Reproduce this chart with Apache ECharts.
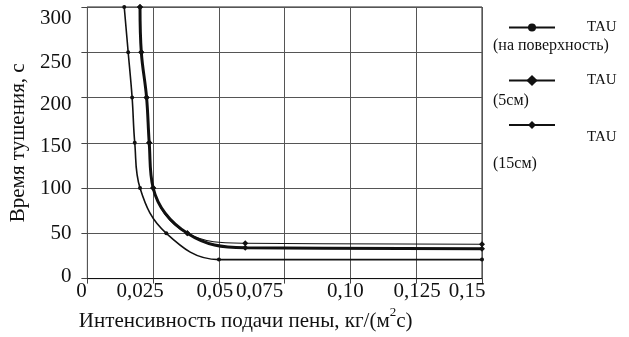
<!DOCTYPE html>
<html>
<head>
<meta charset="utf-8">
<script src="https://cdn.jsdelivr.net/npm/echarts@6/dist/echarts.min.js"></script>
<style>
html,body{margin:0;padding:0;background:#fff;}
#chart{width:629px;height:337px;}
</style>
</head>
<body>
<div id="chart"></div>
<script>
// ---- data ----
var seriesNames = ['TAU (на поверхность)', 'TAU (5см)', 'TAU (15см)'];
var legendLabel = 'TAU';
var legendNotes = ['(на поверхность)', '(5см)', '(15см)'];
var surfaceX = [0.014, 0.0155, 0.017, 0.018, 0.020, 0.030, 0.050, 0.150];
var surfaceY = [300, 250, 200, 150, 100, 50, 21, 21];
var cm5X = [0.020, 0.0205, 0.0225, 0.0235, 0.025, 0.038, 0.060, 0.150];
var cm5Y = [300, 250, 200, 150, 100, 50, 34, 33];
var cm15X = [0.020, 0.0205, 0.0225, 0.0235, 0.025, 0.038, 0.060, 0.150];
var cm15Y = [300, 250, 200, 150, 100, 50, 39, 38];
var xTickLabels = ['0', '0,025', '0,05', '0,075', '0,10', '0,125', '0,15'];
var yTickLabels = ['0', '50', '100', '150', '200', '250', '300'];
var xTitle = 'Интенсивность подачи пены, кг/(м';
var xTitleSup = '2';
var xTitleEnd = 'с)';
var yTitle = 'Время тушения, с';

function pairs(xs, ys) { return xs.map(function (x, i) { return [x, ys[i]]; }); }

// ---- style ----
var FONT = 'Liberation Serif';
var INK = '#111';
var AX = 21;
// per-label nudges (px) to match the reference placement
var xShift = [-6, -13, -4, -25, -5, 1, -15];
var yShift = [-2.5, 0, 0, 4, 7, 10, 11];

var xRich = {}, yRich = {};
xTickLabels.forEach(function (t, i) {
  var s = xShift[i];
  xRich['x' + i] = { fontFamily: FONT, fontSize: AX, color: INK,
    padding: [0, s < 0 ? -2 * s : 0, 0, s > 0 ? 2 * s : 0] };
});
yTickLabels.forEach(function (t, i) {
  var s = yShift[i];
  yRich['y' + i] = { fontFamily: FONT, fontSize: AX, color: INK,
    padding: [s > 0 ? 2 * s : 0, 0, s < 0 ? -2 * s : 0, 0] };
});

var chart = echarts.init(document.getElementById('chart'), null, { renderer: 'canvas' });

var legendIcon = [
  { h: 10, top: 20, padTop: 0 },
  { h: 14, top: 73, padTop: 0 },
  { h: 10, top: 121, padTop: 24 }
];

var option = {
  backgroundColor: '#fff',
  animation: false,
  textStyle: { fontFamily: FONT },
  grid: { left: 86, right: 147, top: 7, bottom: 49, show: true, borderColor: '#222', borderWidth: 1 },
  xAxis: {
    type: 'value', min: 0, max: 0.15, interval: 0.025,
    axisLine: { show: true, lineStyle: { color: INK, width: 1 } },
    axisTick: { show: true, length: 5, lineStyle: { color: '#444' } },
    splitLine: { show: true, lineStyle: { color: '#555', width: 1 } },
    axisLabel: {
      margin: 2,
      formatter: function (v) {
        var i = Math.round(v / 0.025);
        return '{x' + i + '|' + xTickLabels[i] + '}';
      },
      rich: xRich
    },
    name: '{n|' + xTitle + '}{s|' + xTitleSup + '}{n|' + xTitleEnd + '}',
    nameLocation: 'middle', nameGap: 22,
    nameTextStyle: {
      padding: [0, 78, 0, 0],
      rich: {
        n: { fontFamily: FONT, fontSize: AX, color: INK, lineHeight: 30 },
        s: { fontFamily: FONT, fontSize: 13, color: INK, lineHeight: 13, verticalAlign: 'top' }
      }
    }
  },
  yAxis: {
    type: 'value', min: 0, max: 300, interval: 50,
    axisLine: { show: true, lineStyle: { color: '#555', width: 1 } },
    axisTick: { show: true, length: 6, lineStyle: { color: '#444' } },
    splitLine: { show: true, lineStyle: { color: '#555', width: 1 } },
    axisLabel: {
      margin: 16,
      formatter: function (v) {
        var i = Math.round(v / 50);
        return '{y' + i + '|' + yTickLabels[i] + '}';
      },
      rich: yRich
    },
    name: yTitle, nameLocation: 'middle', nameGap: 54, nameRotate: 90,
    nameTextStyle: { fontFamily: FONT, fontSize: AX, color: INK }
  },
  legend: seriesNames.map(function (n, i) {
    return {
      data: [n], left: 508, top: legendIcon[i].top, orient: 'vertical', padding: 0,
      itemWidth: 46, itemHeight: legendIcon[i].h, selectedMode: false,
      formatter: function () { return '{t|' + legendLabel + '}'; },
      textStyle: {
        rich: { t: { fontFamily: FONT, fontSize: 15, color: INK, padding: [legendIcon[i].padTop, 0, 0, 27] } }
      }
    };
  }),
  graphic: legendNotes.map(function (t, i) {
    return {
      type: 'text', left: 493, top: [38, 93, 156][i],
      style: { text: t, font: '16px "Liberation Serif"', fill: INK }
    };
  }),
  series: [
    {
      name: seriesNames[0], type: 'line', data: pairs(surfaceX, surfaceY), smooth: 0.4,
      symbol: 'circle', symbolSize: 4,
      lineStyle: { color: INK, width: 1.6 }, itemStyle: { color: INK }
    },
    {
      name: seriesNames[1], type: 'line', data: pairs(cm5X, cm5Y), smooth: 0.4,
      symbol: 'diamond', symbolSize: 6,
      lineStyle: { color: INK, width: 3 }, itemStyle: { color: INK }
    },
    {
      name: seriesNames[2], type: 'line', data: pairs(cm15X, cm15Y), smooth: 0.4,
      symbol: 'diamond', symbolSize: 6,
      lineStyle: { color: INK, width: 1.1 }, itemStyle: { color: INK }
    }
  ]
};
chart.setOption(option);
</script>
</body>
</html>
